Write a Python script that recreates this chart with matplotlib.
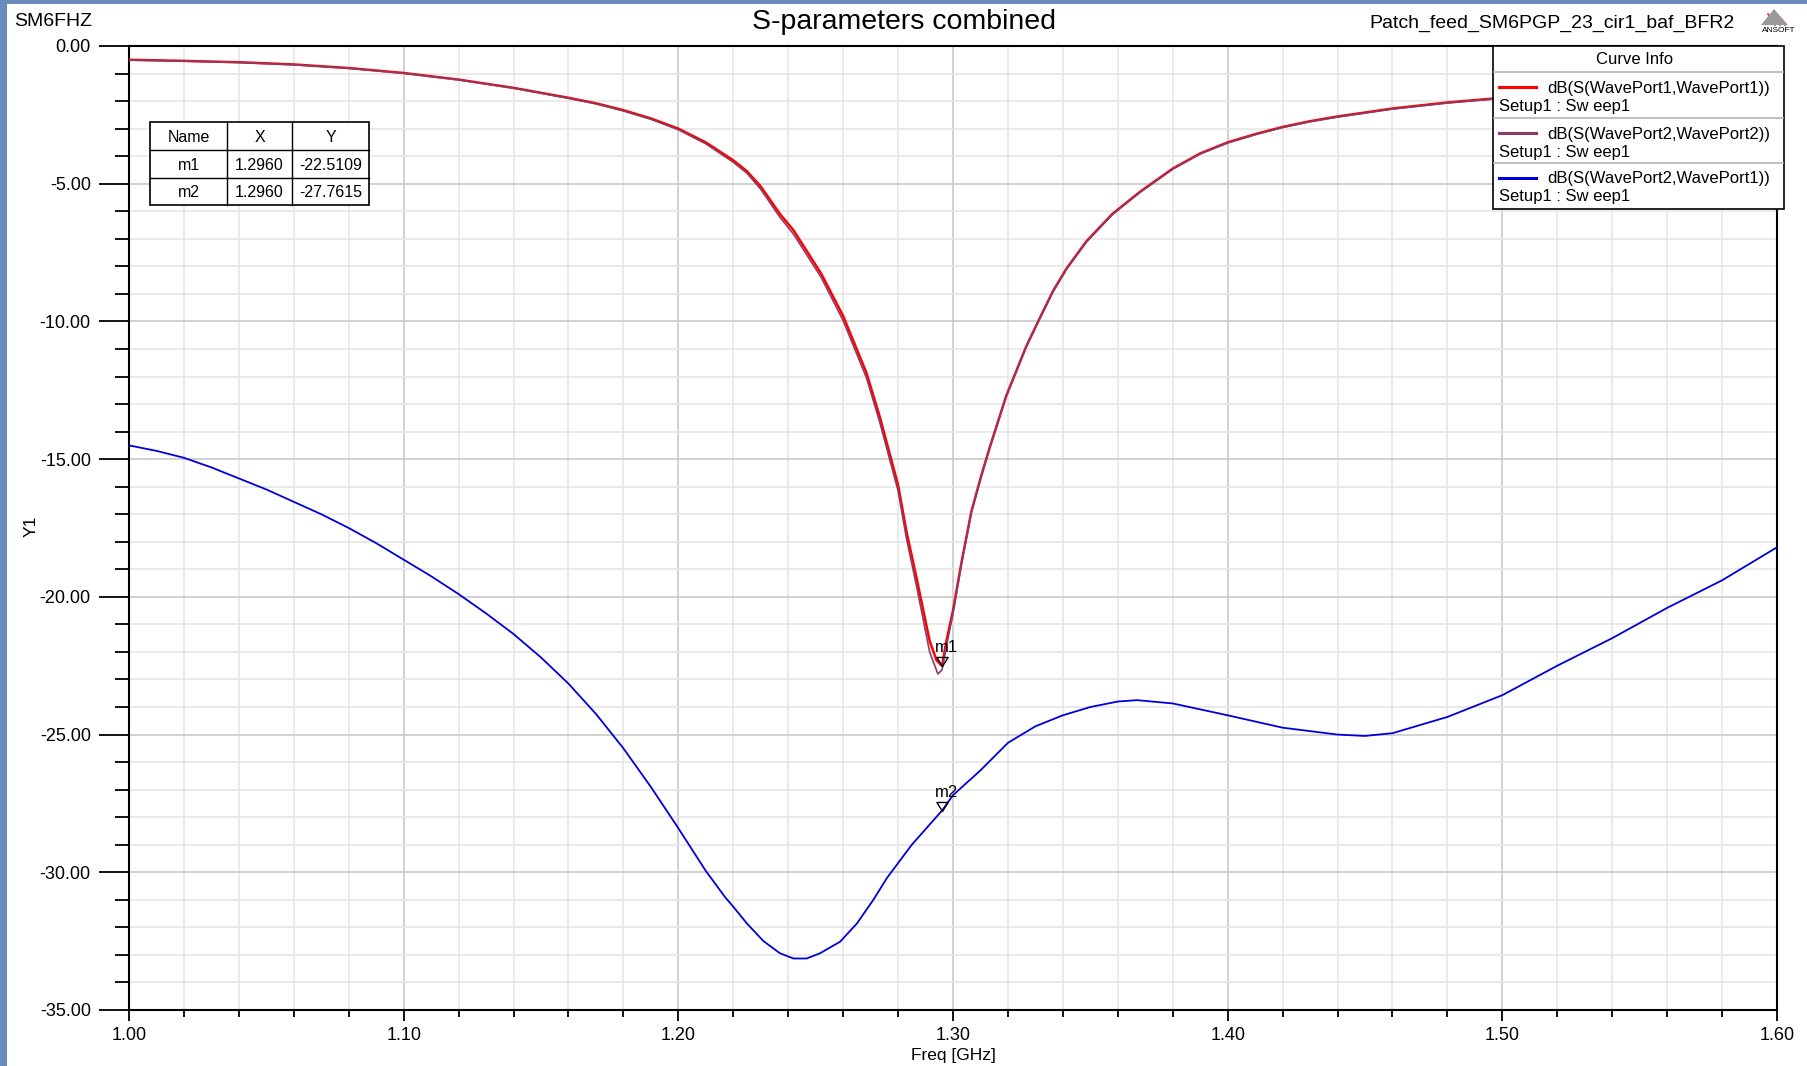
import matplotlib
matplotlib.use("Agg")
import matplotlib.pyplot as plt
from matplotlib.patches import Rectangle, Polygon
from matplotlib.lines import Line2D
from matplotlib.path import Path
from matplotlib.ticker import MultipleLocator, FormatStrFormatter

plt.rcParams['font.family'] = ['Liberation Sans', 'DejaVu Sans']

# ---------------- data ----------------
freq_s11 = [1.000, 1.020, 1.040, 1.060, 1.080, 1.100, 1.120, 1.140, 1.160, 1.170,
            1.180, 1.190, 1.200, 1.210, 1.220, 1.225, 1.230, 1.237, 1.242, 1.2521,
            1.260, 1.2685, 1.2733, 1.280, 1.283, 1.2867, 1.2915, 1.294, 1.296, 1.2976,
            1.300, 1.303, 1.3067, 1.3103, 1.3133, 1.3194, 1.3267, 1.3315, 1.3364, 1.3412,
            1.3485, 1.358, 1.368, 1.380, 1.390, 1.400, 1.410, 1.420, 1.430, 1.440,
            1.460, 1.480, 1.500, 1.530, 1.560, 1.600]
s11_db = [-0.50, -0.54, -0.59, -0.67, -0.80, -0.98, -1.22, -1.52, -1.88, -2.08,
          -2.33, -2.63, -3.00, -3.50, -4.15, -4.55, -5.10, -6.10, -6.70, -8.28,
          -9.80, -11.87, -13.45, -15.94, -17.60, -19.30, -21.60, -22.30, -22.51, -21.60,
          -20.50, -18.80, -16.90, -15.60, -14.60, -12.70, -10.90, -9.90, -8.90, -8.10,
          -7.10, -6.10, -5.30, -4.45, -3.90, -3.50, -3.20, -2.94, -2.73, -2.56,
          -2.27, -2.05, -1.88, -1.70, -1.57, -1.42]

freq_s22 = [1.000, 1.020, 1.040, 1.060, 1.080, 1.100, 1.120, 1.140, 1.160, 1.170,
            1.180, 1.190, 1.200, 1.210, 1.220, 1.225, 1.230, 1.237, 1.242, 1.2521,
            1.260, 1.2685, 1.2733, 1.280, 1.283, 1.2867, 1.2915, 1.2945, 1.296, 1.2976,
            1.300, 1.303, 1.3067, 1.3103, 1.3133, 1.3194, 1.3267, 1.3315, 1.3364, 1.3412,
            1.3485, 1.358, 1.368, 1.380, 1.390, 1.400, 1.410, 1.420, 1.430, 1.440,
            1.460, 1.480, 1.500, 1.530, 1.560, 1.600]
s22_db = [-0.51, -0.55, -0.60, -0.68, -0.81, -0.99, -1.23, -1.53, -1.90, -2.10,
          -2.36, -2.66, -3.04, -3.55, -4.22, -4.62, -5.20, -6.22, -6.84, -8.42,
          -9.97, -12.05, -13.65, -16.15, -17.85, -19.60, -22.00, -22.80, -22.65, -21.80,
          -20.60, -18.85, -16.92, -15.62, -14.60, -12.70, -10.90, -9.90, -8.92, -8.12,
          -7.12, -6.12, -5.32, -4.47, -3.92, -3.52, -3.22, -2.96, -2.75, -2.58,
          -2.29, -2.07, -1.90, -1.72, -1.59, -1.44]

freq_s21 = [1.000, 1.010, 1.020, 1.030, 1.040, 1.050, 1.060, 1.070, 1.080, 1.090,
            1.100, 1.110, 1.120, 1.130, 1.140, 1.150, 1.160, 1.170, 1.180, 1.190,
            1.200, 1.210, 1.217, 1.220, 1.2249, 1.231, 1.237, 1.2419, 1.2467, 1.2516,
            1.2589, 1.265, 1.271, 1.276, 1.285, 1.296, 1.300, 1.310, 1.320, 1.330,
            1.340, 1.350, 1.360, 1.367, 1.380, 1.400, 1.420, 1.440, 1.450, 1.460,
            1.480, 1.500, 1.520, 1.540, 1.560, 1.580, 1.600]
s21_db = [-14.50, -14.70, -14.95, -15.30, -15.70, -16.10, -16.55, -17.00, -17.50, -18.05,
          -18.65, -19.25, -19.90, -20.60, -21.35, -22.20, -23.15, -24.25, -25.50, -26.90,
          -28.40, -29.95, -30.90, -31.25, -31.85, -32.50, -32.94, -33.13, -33.13, -32.94,
          -32.52, -31.86, -31.00, -30.20, -29.00, -27.76, -27.20, -26.30, -25.30, -24.70,
          -24.30, -24.00, -23.80, -23.75, -23.87, -24.30, -24.75, -25.00, -25.05, -24.95,
          -24.36, -23.57, -22.50, -21.50, -20.40, -19.40, -18.20]

legend_labels = ['dB(S(WavePort1,WavePort1))', 'dB(S(WavePort2,WavePort2))',
                 'dB(S(WavePort2,WavePort1))']
legend_sub = 'Setup1 : Sw eep1'
marker_names = ['m1', 'm2']
marker_x = [1.2960, 1.2960]
marker_y = [-22.5109, -27.7615]

# ---------------- figure ----------------
W, H = 1808, 1066
DPI = 100
fig = plt.figure(figsize=(W / DPI, H / DPI), dpi=DPI)
fig.patch.set_facecolor('white')


def fx(x):
    return x / W


def fy(y):
    return 1 - y / H


# window frame strips
fig.patches.append(Rectangle((0, 0), fx(7), 1, transform=fig.transFigure,
                             facecolor='#6a8bbd', edgecolor='none', zorder=0))
fig.patches.append(Rectangle((0, fy(4)), 1, 4 / H, transform=fig.transFigure,
                             facecolor='#6a8bbd', edgecolor='none', zorder=0))

ax_l, ax_r, ax_t, ax_b = 129, 1777, 46, 1010
ax = fig.add_axes([fx(ax_l), fy(ax_b), fx(ax_r - ax_l), (ax_b - ax_t) / H])

c_red = '#ff0000'
c_pur = '#8a3c68'
c_blu = '#0000dd'

ax.plot(freq_s11, s11_db, color=c_red, lw=1.8, zorder=3)
ax.plot(freq_s22, s22_db, color=c_pur, lw=1.2, zorder=3)
ax.plot(freq_s21, s21_db, color=c_blu, lw=1.3, zorder=3)

ax.set_xlim(1.0, 1.6)
ax.set_ylim(-35, 0)
ax.xaxis.set_major_locator(MultipleLocator(0.1))
ax.xaxis.set_minor_locator(MultipleLocator(0.02))
ax.yaxis.set_major_locator(MultipleLocator(5))
ax.yaxis.set_minor_locator(MultipleLocator(1))
ax.xaxis.set_major_formatter(FormatStrFormatter('%.2f'))
ax.yaxis.set_major_formatter(FormatStrFormatter('%.2f'))

ax.grid(which='major', color='#c9c9c9', lw=1.2, zorder=0)
ax.grid(which='minor', color='#e6e6e6', lw=1.2, zorder=0)
ax.set_axisbelow(True)

for s in ax.spines.values():
    s.set_linewidth(1.5)
    s.set_color('black')

ax.tick_params(axis='y', which='major', direction='out', length=21.5, width=1.3,
               labelsize=13, pad=6)
ax.tick_params(axis='y', which='minor', direction='out', length=10, width=1.3)
ax.tick_params(axis='x', which='major', direction='out', length=8, width=1.3,
               labelsize=13, pad=4)
ax.tick_params(axis='x', which='minor', direction='out', length=5, width=1.3)

ax.set_xlabel('Freq [GHz]', fontsize=12.5, labelpad=3)
fig.text(fx(31), fy(526), 'Y1', rotation=90, fontsize=12.5, ha='center', va='center')

# markers (open triangles with apex at the point)
tri = Path([(0, 0), (-0.62, 1.0), (0.62, 1.0), (0, 0)],
           [Path.MOVETO, Path.LINETO, Path.LINETO, Path.CLOSEPOLY])
for name, mx, my in zip(marker_names, marker_x, marker_y):
    ax.plot([mx], [my], marker=tri, markersize=13, markerfacecolor='none',
            markeredgecolor='black', markeredgewidth=1.0, zorder=5, ls='none')
    ax.annotate(name, (mx, my), xytext=(-7, 11), textcoords='offset pixels',
                fontsize=12, ha='left', va='bottom', zorder=6)

# titles
fig.text(fx(14), fy(22), 'SM6FHZ', fontsize=14, ha='left', va='center')
fig.text(0.5, fy(22), 'S-parameters combined', fontsize=20.5, ha='center', va='center')
fig.text(fx(1735), fy(23), 'Patch_feed_SM6PGP_23_cir1_baf_BFR2', fontsize=14,
         ha='right', va='center')

# ANSOFT logo
logo = Polygon([[fx(1774), fy(9)], [fx(1761), fy(25)], [fx(1788), fy(25)]],
               closed=True, transform=fig.transFigure, facecolor='#9a9a9a',
               edgecolor='none', zorder=5)
fig.patches.append(logo)
for k in range(3):
    x0 = 1768 + k * 5
    fig.add_artist(Line2D([fx(x0), fx(x0 + 7)], [fy(14 + k * 1), fy(25)],
                          color='#e02020', lw=1.2, transform=fig.transFigure))
fig.text(fx(1779), fy(31), 'ANSOFT', fontsize=6, ha='center', va='center')

# Legend ("Curve Info") box
lx0, lx1 = 1493, 1784
ly = [46, 72, 118, 163, 209]
fig.patches.append(Rectangle((fx(lx0), fy(ly[-1])), fx(lx1 - lx0), (ly[-1] - ly[0]) / H,
                             transform=fig.transFigure, facecolor='white',
                             edgecolor='black', lw=1.2, zorder=10))
for yy in ly[1:-1]:
    fig.add_artist(Line2D([fx(lx0 + 1), fx(lx1 - 1)], [fy(yy), fy(yy)], color='#b5b5b5',
                          lw=1.2, transform=fig.transFigure, zorder=11))
fig.text(fx(1635), fy(60), 'Curve Info', fontsize=12, ha='center', va='center', zorder=12)
for i, (lab, col) in enumerate(zip(legend_labels, [c_red, c_pur, c_blu])):
    top = ly[i + 1]
    fig.add_artist(Line2D([fx(1499), fx(1536)], [fy(top + 15), fy(top + 15)], color=col,
                          lw=2.2, transform=fig.transFigure, zorder=12))
    fig.text(fx(1547), fy(top + 16), lab, fontsize=12, ha='left', va='center', zorder=12)
    fig.text(fx(1499), fy(top + 34), legend_sub, fontsize=12, ha='left', va='center',
             zorder=12)

# Marker table
tx = [150, 227, 292, 369]
ty = [122, 150, 178, 205]
fig.patches.append(Rectangle((fx(tx[0]), fy(ty[-1])), fx(tx[-1] - tx[0]), (ty[-1] - ty[0]) / H,
                             transform=fig.transFigure, facecolor='white',
                             edgecolor='black', lw=1.2, zorder=10))
for xx in tx[1:-1]:
    fig.add_artist(Line2D([fx(xx), fx(xx)], [fy(ty[0]), fy(ty[-1])], color='black',
                          lw=1.0, transform=fig.transFigure, zorder=11))
for yy in ty[1:-1]:
    fig.add_artist(Line2D([fx(tx[0]), fx(tx[-1])], [fy(yy), fy(yy)], color='black',
                          lw=1.0, transform=fig.transFigure, zorder=11))
rows = [['Name', 'X', 'Y']] + [[n, '%.4f' % x, '%.4f' % y]
                              for n, x, y in zip(marker_names, marker_x, marker_y)]
for r, row in enumerate(rows):
    for c, txt in enumerate(row):
        fig.text(fx((tx[c] + tx[c + 1]) / 2), fy((ty[r] + ty[r + 1]) / 2 + 1), txt,
                 fontsize=11.5, ha='center', va='center', zorder=12)

fig.savefig('out.png', dpi=DPI)
